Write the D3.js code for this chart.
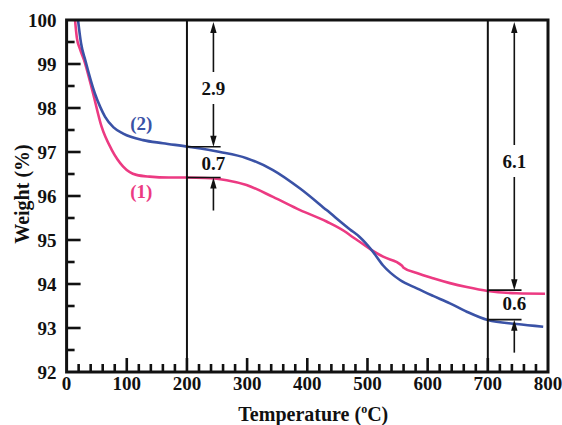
<!DOCTYPE html>
<html>
<head>
<meta charset="utf-8">
<script src="https://cdn.jsdelivr.net/npm/d3@7"></script>
<style>
  html, body { margin: 0; padding: 0; background: #fff; }
  svg text { font-family: "Liberation Serif", "Times New Roman", serif; font-weight: bold; fill: #111; }
</style>
</head>
<body>
<svg id="chart" width="562" height="425"></svg>
<script>
// ---------- data ----------
const temp1 = [14, 17, 22, 29, 44, 58, 75, 94, 116, 138, 170, 200, 230, 266, 299, 343, 388, 432, 465, 470, 487, 507, 526, 557, 560, 582, 609, 637, 665, 700, 748, 795];
const weight1 = [100, 99.6, 99.35, 99.09, 98.33, 97.58, 97.05, 96.67, 96.48, 96.44, 96.42, 96.42, 96.41, 96.36, 96.25, 95.98, 95.68, 95.42, 95.17, 95.12, 94.96, 94.77, 94.62, 94.42, 94.37, 94.25, 94.13, 94.02, 93.93, 93.84, 93.79, 93.78];
const temp2 = [19, 24, 31, 47, 56, 64, 78, 94, 127, 160, 202, 255, 299, 343, 388, 432, 471, 487, 507, 526, 554, 582, 609, 637, 665, 700, 748, 792];
const weight2 = [100, 99.47, 99.09, 98.33, 98.02, 97.8, 97.56, 97.42, 97.27, 97.2, 97.12, 97.0, 96.86, 96.59, 96.17, 95.68, 95.24, 95.07, 94.77, 94.42, 94.09, 93.9, 93.73, 93.56, 93.37, 93.18, 93.09, 93.03];
const seriesNames = ["(1)", "(2)"];
const seriesColors = ["#ec3a82", "#3a52a6"];
const xTicks = [0, 100, 200, 300, 400, 500, 600, 700, 800];
const yTicks = [92, 93, 94, 95, 96, 97, 98, 99, 100];
const markerTemps = [200, 700];
const lossLabels = ["2.9", "6.1"];
const diffLabels = ["0.7", "0.6"];
const levelUpper = [97.12, 93.86];   // at 200: curve 2 ; at 700: curve 1
const levelLower = [96.42, 93.19];   // at 200: curve 1 ; at 700: curve 2

// ---------- layout ----------
const svg = d3.select("#chart");
const L = 66.6, R = 548, T = 20, B = 372;
const FS = 19;
const x = d3.scaleLinear().domain([0, 800]).range([L, R]);
const y = d3.scaleLinear().domain([92, 100]).range([B, T]);

// ticks (inward)
const g = svg.append("g");
const xMinor = d3.range(0, 801, 20).filter(v => v % 100 !== 0);
const yMinor = d3.range(92.5, 100, 1);
g.selectAll(".xmaj").data(xTicks.slice(1, -1)).join("line")
  .attr("x1", d => x(d)).attr("x2", d => x(d)).attr("y1", B).attr("y2", B - 14)
  .attr("stroke", "#111").attr("stroke-width", 2.6);
g.selectAll(".xmin").data(xMinor).join("line")
  .attr("x1", d => x(d)).attr("x2", d => x(d)).attr("y1", B).attr("y2", B - 8)
  .attr("stroke", "#111").attr("stroke-width", 2.6);
g.selectAll(".ymaj").data(yTicks.slice(1, -1)).join("line")
  .attr("x1", L).attr("x2", L + 14).attr("y1", d => y(d)).attr("y2", d => y(d))
  .attr("stroke", "#111").attr("stroke-width", 2.6);
g.selectAll(".ymin").data(yMinor).join("line")
  .attr("x1", L).attr("x2", L + 8).attr("y1", d => y(d)).attr("y2", d => y(d))
  .attr("stroke", "#111").attr("stroke-width", 2.6);

// tick labels
svg.selectAll(".xl").data(xTicks).join("text")
  .attr("x", d => x(d)).attr("y", B + 18).attr("text-anchor", "middle")
  .attr("font-size", FS).text(d => d);
svg.selectAll(".yl").data(yTicks).join("text")
  .attr("x", L - 10).attr("y", d => y(d)).attr("dy", "0.35em").attr("text-anchor", "end")
  .attr("font-size", FS).text(d => d);

// curves
const line = d3.line().x(d => x(d[0])).y(d => y(d[1])).curve(d3.curveMonotoneX);
const data1 = temp1.map((t, i) => [t, weight1[i]]);
const data2 = temp2.map((t, i) => [t, weight2[i]]);
svg.append("defs").append("clipPath").attr("id", "clip").append("rect")
  .attr("x", L).attr("y", T).attr("width", R - L).attr("height", B - T);
const cg = svg.append("g").attr("clip-path", "url(#clip)");
cg.append("path").attr("d", line(data1)).attr("fill", "none")
  .attr("stroke", seriesColors[0]).attr("stroke-width", 2.6).attr("stroke-linejoin", "round");
cg.append("path").attr("d", line(data2)).attr("fill", "none")
  .attr("stroke", seriesColors[1]).attr("stroke-width", 2.6).attr("stroke-linejoin", "round");

// series labels
svg.append("text").attr("x", x(124)).attr("y", y(96.1)).attr("dy", "0.35em")
  .attr("text-anchor", "middle").attr("font-size", FS).style("fill", seriesColors[0]).text(seriesNames[0]);
svg.append("text").attr("x", x(124)).attr("y", y(97.66)).attr("dy", "0.35em")
  .attr("text-anchor", "middle").attr("font-size", FS).style("fill", seriesColors[1]).text(seriesNames[1]);

// vertical marker lines
svg.selectAll(".vm").data(markerTemps).join("line")
  .attr("x1", d => x(d)).attr("x2", d => x(d)).attr("y1", T).attr("y2", B)
  .attr("stroke", "#111").attr("stroke-width", 2);

// annotations
function arrowHead(px, py, dir) { // dir: 1 = pointing down, -1 = pointing up
  const h = 11 * dir, w = 3.2;
  svg.append("path")
    .attr("d", `M${px},${py} L${px - w},${py - h} L${px + w},${py - h} Z`)
    .attr("fill", "#111");
}
function vseg(px, y1, y2) {
  svg.append("line").attr("x1", px).attr("x2", px).attr("y1", y1).attr("y2", y2)
    .attr("stroke", "#111").attr("stroke-width", 1.6);
}
markerTemps.forEach((mt, i) => {
  const ax = x(mt + 44);
  const hx2 = x(mt + 56);
  const yu = y(levelUpper[i]), yl = y(levelLower[i]);
  [yu, yl].forEach(yy => svg.append("line").attr("x1", x(mt)).attr("x2", hx2)
    .attr("y1", yy).attr("y2", yy).attr("stroke", "#111").attr("stroke-width", 1.6));
  const ytop = T + 2;
  const labY = i === 0 ? 88 : 161;
  vseg(ax, ytop + 8, labY - 16);
  vseg(ax, labY + 16, yu - 8);
  arrowHead(ax, ytop, -1);
  arrowHead(ax, yu, 1);
  svg.append("text").attr("x", ax).attr("y", labY).attr("dy", "0.35em")
    .attr("text-anchor", "middle").attr("font-size", FS).text(lossLabels[i]);
  svg.append("text").attr("x", ax).attr("y", (yu + yl) / 2 + (i === 0 ? 1 : -2)).attr("dy", "0.35em")
    .attr("text-anchor", "middle").attr("font-size", FS).text(diffLabels[i]);
  vseg(ax, yl + 8, yl + 33);
  arrowHead(ax, yl, -1);
});

// frame
svg.append("rect").attr("x", L).attr("y", T).attr("width", R - L).attr("height", B - T)
  .attr("fill", "none").attr("stroke", "#111").attr("stroke-width", 3);

// axis titles
const xt = svg.append("text").attr("x", (L + R) / 2 + 6).attr("y", 421)
  .attr("text-anchor", "middle").attr("font-size", 20);
xt.append("tspan").text("Temperature (");
xt.append("tspan").attr("font-size", 12).attr("dy", -8).text("o");
xt.append("tspan").attr("dy", 8).text("C)");
svg.append("text").attr("transform", `translate(22,194) rotate(-90)`)
  .attr("dy", "0.35em").attr("text-anchor", "middle").attr("font-size", 20).text("Weight (%)");
</script>
</body>
</html>
